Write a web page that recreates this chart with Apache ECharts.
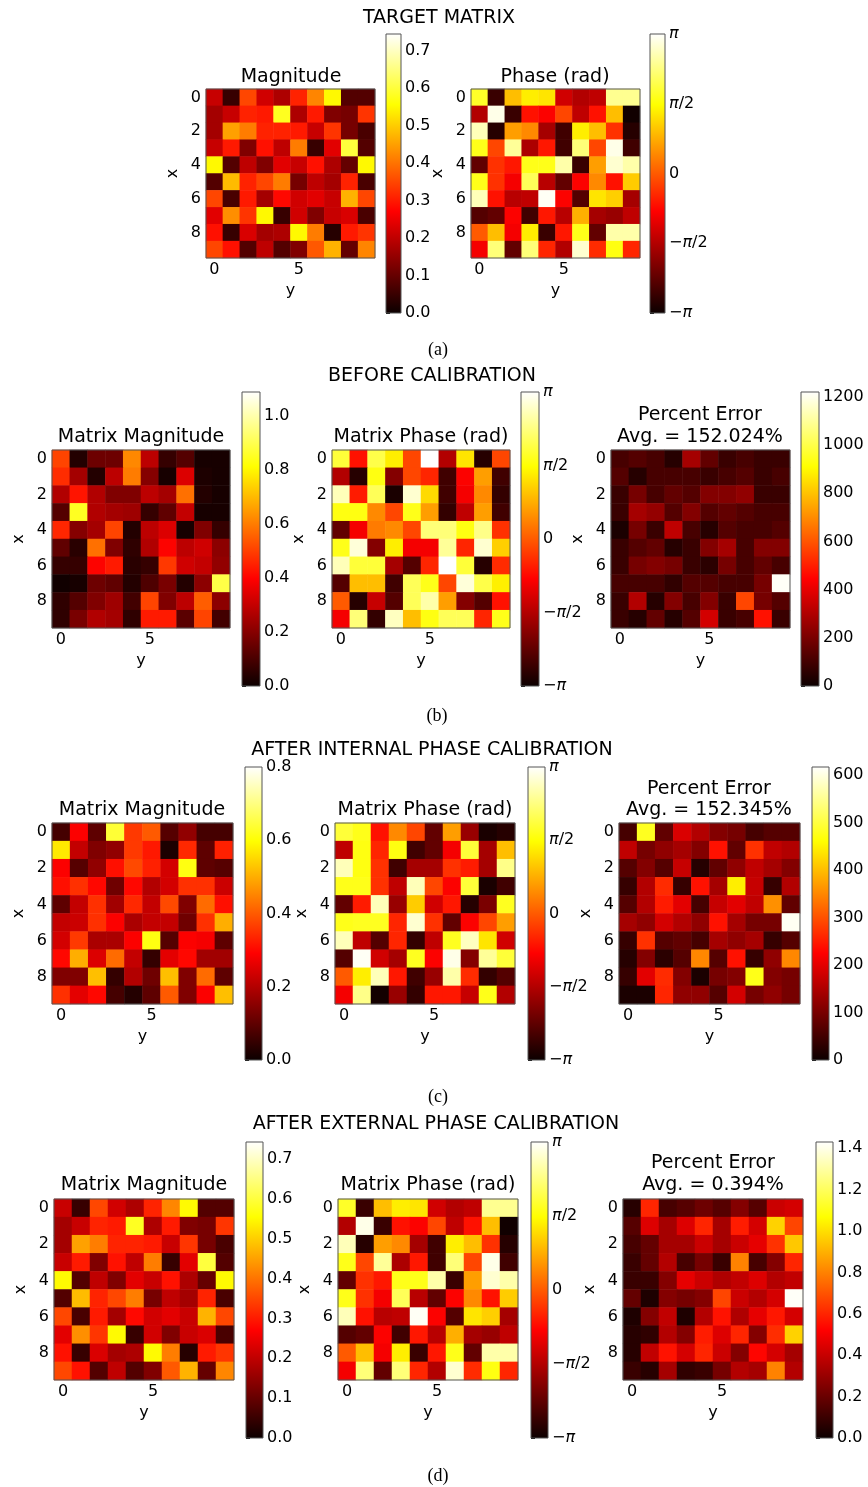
<!DOCTYPE html>
<html><head><meta charset="utf-8">
<script src="https://cdn.jsdelivr.net/npm/echarts@6/dist/echarts.min.js"></script>
<style>html,body{margin:0;padding:0;background:#fff}#c{width:868px;height:1487px}</style>
</head><body><div id="c"></div>
<script>
// ---------- DATA (rows = x 0..9 top to bottom, columns = y 0..9) ----------
const PI = Math.PI;
const cellIndex = ['0','1','2','3','4','5','6','7','8','9'];

const targetMag = [
[0.21,0.05,0.35,0.22,0.18,0.31,0.42,0.55,0.08,0.08],
[0.17,0.21,0.31,0.30,0.58,0.18,0.30,0.13,0.12,0.33],
[0.17,0.45,0.41,0.31,0.31,0.30,0.21,0.33,0.12,0.07],
[0.21,0.30,0.13,0.29,0.20,0.41,0.05,0.24,0.60,0.08],
[0.55,0.08,0.20,0.13,0.24,0.21,0.29,0.18,0.10,0.55],
[0.08,0.48,0.31,0.35,0.41,0.12,0.20,0.17,0.31,0.07],
[0.35,0.07,0.30,0.17,0.28,0.22,0.24,0.21,0.47,0.35],
[0.24,0.43,0.33,0.55,0.05,0.22,0.13,0.21,0.23,0.07],
[0.29,0.05,0.23,0.17,0.18,0.55,0.41,0.03,0.30,0.33],
[0.35,0.29,0.08,0.20,0.08,0.13,0.37,0.47,0.10,0.42]];

const targetPhase = [
[1.80,-2.70,0.94,1.38,1.30,-1.29,-1.57,-1.45,2.45,2.45],
[-1.57,3.00,-2.70,-0.69,-0.85,-0.19,-1.45,-0.69,0.94,-3.08],
[2.70,-2.89,0.63,0.44,-1.70,-2.64,1.38,0.94,-0.38,-2.89],
[1.70,-0.19,2.50,-1.63,-0.63,-2.64,2.30,-0.19,3.00,-2.64],
[-2.32,-0.38,-0.63,1.70,1.70,2.60,-2.70,0.63,2.85,2.60],
[1.70,-0.38,-0.94,2.10,-1.51,-2.32,-0.85,0.44,-0.69,1.07],
[2.70,-0.69,-1.51,-1.45,3.08,-0.85,-2.45,1.30,1.10,-1.70],
[-2.45,-2.32,-0.85,-2.64,-0.63,-1.51,0.80,-1.70,-1.82,-1.45],
[0.00,0.94,-0.94,1.38,-2.70,-0.63,1.70,-2.32,2.60,2.60],
[-0.94,2.30,-2.32,2.30,-0.50,-1.57,2.85,-0.44,1.65,-0.50]];

const beforeMag = [
[0.51,0.04,0.16,0.16,0.62,0.29,0.07,0.12,0.02,0.02],
[0.47,0.25,0.04,0.29,0.60,0.20,0.02,0.34,0.03,0.02],
[0.27,0.43,0.27,0.19,0.19,0.29,0.25,0.58,0.04,0.02],
[0.12,0.85,0.27,0.25,0.24,0.07,0.14,0.30,0.02,0.02],
[0.46,0.20,0.25,0.51,0.04,0.29,0.34,0.02,0.19,0.07],
[0.14,0.05,0.58,0.19,0.06,0.27,0.40,0.29,0.32,0.21],
[0.07,0.07,0.40,0.44,0.05,0.07,0.49,0.32,0.30,0.22],
[0.01,0.02,0.16,0.14,0.04,0.11,0.18,0.04,0.21,0.89],
[0.06,0.12,0.19,0.24,0.09,0.51,0.19,0.29,0.55,0.21],
[0.06,0.18,0.27,0.25,0.06,0.44,0.44,0.13,0.51,0.09]];

const beforePhase = [
[1.90,-0.69,2.00,1.38,-0.19,3.14,-1.57,1.30,-2.89,-0.19],
[-1.57,-2.89,1.65,-2.00,-0.19,-0.50,-2.64,-0.85,0.63,-2.64],
[2.70,-0.60,2.10,-3.00,2.85,1.20,-2.64,-0.94,0.44,-2.76],
[1.65,1.65,0.44,-0.19,1.70,0.63,-2.76,-1.45,0.63,-2.64],
[-2.32,-0.94,0.30,0.44,-0.19,2.30,2.30,1.65,2.40,-0.38],
[1.70,2.90,-2.00,1.38,-0.94,-0.94,2.50,-0.50,2.85,1.10],
[2.70,1.90,1.90,-1.70,-2.45,-0.50,3.14,1.90,-2.89,-0.44],
[-2.45,0.94,0.94,-2.64,2.10,1.70,-0.19,2.90,2.00,1.40],
[0.00,-2.89,-1.38,-2.45,2.10,2.60,0.63,-2.00,-2.45,-0.69],
[-0.94,2.30,-2.76,2.75,0.94,1.65,2.10,2.10,-0.50,1.70]];

const beforeErr = [
[110,134,110,49,281,159,85,110,85,85],
[134,49,110,110,110,85,110,134,85,110],
[85,195,110,159,134,220,220,244,85,85],
[85,281,250,134,220,134,159,134,110,110],
[30,195,85,329,110,49,134,110,110,134],
[85,134,159,49,85,220,281,110,220,220],
[85,195,220,195,85,60,195,110,159,110],
[110,110,110,70,134,134,110,110,195,1210],
[85,305,49,220,110,220,85,573,195,134],
[85,49,159,49,134,366,85,110,476,85]];

const internalMag = [
[0.07,0.29,0.10,0.64,0.36,0.40,0.09,0.16,0.07,0.07],
[0.57,0.22,0.14,0.16,0.36,0.32,0.02,0.34,0.10,0.33],
[0.29,0.09,0.16,0.31,0.38,0.33,0.24,0.61,0.10,0.09],
[0.31,0.35,0.30,0.12,0.30,0.20,0.24,0.35,0.35,0.23],
[0.10,0.22,0.35,0.18,0.34,0.22,0.38,0.14,0.42,0.31],
[0.22,0.23,0.35,0.29,0.19,0.22,0.22,0.12,0.35,0.50],
[0.24,0.36,0.19,0.19,0.29,0.61,0.09,0.29,0.28,0.10],
[0.30,0.50,0.25,0.42,0.22,0.05,0.26,0.30,0.18,0.18],
[0.14,0.14,0.52,0.05,0.20,0.12,0.52,0.14,0.42,0.10],
[0.35,0.26,0.30,0.07,0.03,0.10,0.40,0.14,0.29,0.52]];

const internalPhase = [
[1.90,1.70,-0.69,0.44,-0.19,-2.32,0.63,-1.82,-3.00,-2.89],
[-1.45,1.65,-0.50,1.65,-2.64,-2.32,-0.94,1.90,-1.70,0.94],
[2.70,1.65,-0.38,-2.64,-1.70,-1.70,-0.38,-0.60,-1.70,2.40],
[1.70,1.70,-0.38,-1.45,2.70,-0.19,-0.85,1.90,-3.00,-2.64],
[-2.32,-0.60,2.70,-1.82,1.07,-1.29,-0.63,-2.89,-2.10,1.75],
[1.70,1.75,1.75,-0.50,2.85,-0.38,-2.32,-0.85,-0.19,0.63],
[2.70,-1.45,-2.45,-0.50,-2.76,-1.45,1.75,2.75,1.30,-1.29],
[-2.45,3.08,-1.29,-1.70,1.75,-0.85,3.00,-2.00,2.50,1.90],
[0.00,1.38,2.70,-0.63,-2.64,-1.82,2.60,-0.44,-2.76,-2.45],
[-0.94,2.40,-3.05,-1.82,-2.76,-0.63,-0.63,-1.38,1.70,-1.57]];

const internalErr = [
[55,480,80,191,154,111,99,55,68,68],
[167,99,123,142,111,241,80,271,167,154],
[68,111,68,173,25,80,123,167,142,111],
[40,154,265,40,241,142,444,173,40,154],
[68,154,250,200,55,173,200,167,358,80],
[142,123,185,154,123,241,142,99,99,610],
[40,271,68,80,55,142,123,142,40,68],
[25,111,30,68,350,68,241,40,123,350],
[40,200,265,111,15,99,111,475,111,99],
[15,15,259,123,123,68,185,99,123,99]];

// after external calibration the matrix matches the target
const externalMag = targetMag;
const externalPhase = targetPhase;

const externalErr = [
[0.06,0.60,0.13,0.16,0.21,0.16,0.26,0.16,0.41,0.43],
[0.16,0.45,0.33,0.45,0.60,0.33,0.58,0.43,0.97,0.67],
[0.13,0.19,0.33,0.33,0.41,0.33,0.41,0.47,0.63,0.95],
[0.10,0.19,0.36,0.13,0.23,0.10,0.80,0.13,0.26,0.60],
[0.10,0.10,0.26,0.47,0.41,0.35,0.39,0.45,0.36,0.39],
[0.19,0.04,0.26,0.23,0.26,0.67,0.41,0.36,0.43,1.42],
[0.04,0.26,0.39,0.04,0.36,0.56,0.35,0.47,0.57,0.43],
[0.06,0.08,0.36,0.26,0.58,0.45,0.60,0.26,0.62,0.97],
[0.06,0.39,0.56,0.43,0.60,0.41,0.26,0.53,0.43,0.33],
[0.10,0.06,0.33,0.08,0.10,0.23,0.36,0.33,0.80,0.36]];

// colour ranges
const targetMagRange = [0, 0.745];
const phaseRange = [-PI, PI];
const beforeMagRange = [0, 1.09];
const beforeErrRange = [0, 1220];
const internalMagRange = [0, 0.80];
const internalErrRange = [0, 617];
const externalMagRange = [0, 0.743];
const externalErrRange = [0, 1.43];

// colorbar ticks
const magTicksA = [0,0.1,0.2,0.3,0.4,0.5,0.6,0.7];
const phaseTicks = [-PI,-PI/2,0,PI/2,PI];
const phaseTickLabels = ['\u2212{i|\u03c0}','\u2212{i|\u03c0}/2','0','{i|\u03c0}/2','{i|\u03c0}'];
const beforeMagTicks = [0,0.2,0.4,0.6,0.8,1.0];
const beforeErrTicks = [0,200,400,600,800,1000,1200];
const internalMagTicks = [0,0.2,0.4,0.6,0.8];
const internalErrTicks = [0,100,200,300,400,500,600];
const externalErrTicks = [0,0.2,0.4,0.6,0.8,1.0,1.2,1.4];

// ---------- STYLE ----------
const FONT = '"DejaVu Sans", Verdana, sans-serif';
const TICK_FS = 16, TITLE_FS = 19;
function hot(t){
  const r = Math.min(1, 0.0416 + (1-0.0416)*t/0.365079);
  const g = Math.max(0, Math.min(1, (t-0.365079)/(0.746032-0.365079)));
  const b = Math.max(0, Math.min(1, (t-0.746032)/(1-0.746032)));
  return 'rgb(' + Math.round(r*255) + ',' + Math.round(g*255) + ',' + Math.round(b*255) + ')';
}
const hotPalette = [];
for (let k = 0; k <= 64; k++) hotPalette.push(hot(k/64));
const hotGradient = {type:'linear', x:0, y:1, x2:0, y2:0, colorStops:[
  {offset:0, color:'rgb(11,0,0)'},{offset:0.365079, color:'rgb(255,0,0)'},
  {offset:0.746032, color:'rgb(255,255,0)'},{offset:1, color:'rgb(255,255,255)'}]};

const fmt1 = v => v.toFixed(1);
const fmt0 = v => String(Math.round(v));
const fmtPhase = v => { let i = 0; phaseTicks.forEach((t,k)=>{ if (Math.abs(t-v) < 1e-6) i = k; }); return phaseTickLabels[i]; };

const panels = [
  {data:targetMag, hm:[206,89,169,169], cb:[386,34,15,279], range:targetMagRange, ticks:magTicksA, fmt:fmt1},
  {data:targetPhase, hm:[471,89,169,169], cb:[650,34,15,279], range:phaseRange, ticks:phaseTicks, fmt:fmtPhase},
  {data:beforeMag, hm:[52,450,178,178], cb:[242,392,18,294], range:beforeMagRange, ticks:beforeMagTicks, fmt:fmt1},
  {data:beforePhase, hm:[332,450,178,178], cb:[521,392,18,294], range:phaseRange, ticks:phaseTicks, fmt:fmtPhase},
  {data:beforeErr, hm:[611,450,179,178], cb:[801,392,18,294], range:beforeErrRange, ticks:beforeErrTicks, fmt:fmt0},
  {data:internalMag, hm:[52,823,181,181], cb:[245,767,17,293], range:internalMagRange, ticks:internalMagTicks, fmt:fmt1},
  {data:internalPhase, hm:[335,823,180,181], cb:[528,767,17,293], range:phaseRange, ticks:phaseTicks, fmt:fmtPhase},
  {data:internalErr, hm:[619,823,181,181], cb:[812,767,17,293], range:internalErrRange, ticks:internalErrTicks, fmt:fmt0},
  {data:externalMag, hm:[54,1199,180,181], cb:[246,1142,17,296], range:externalMagRange, ticks:magTicksA, fmt:fmt1},
  {data:externalPhase, hm:[338,1199,180,181], cb:[531,1142,17,296], range:phaseRange, ticks:phaseTicks, fmt:fmtPhase},
  {data:externalErr, hm:[623,1199,180,181], cb:[816,1142,17,296], range:externalErrRange, ticks:externalErrTicks, fmt:fmt1}
];

const texts = [
  ['TARGET MATRIX', 439, 18, TITLE_FS, false],
  ['Magnitude', 291, 77, TITLE_FS, false],
  ['Phase (rad)', 555, 77, TITLE_FS, false],
  ['(a)', 438, 350, 18, true],
  ['BEFORE CALIBRATION', 432, 376, TITLE_FS, false],
  ['Matrix Magnitude', 141, 437, TITLE_FS, false],
  ['Matrix Phase (rad)', 421, 437, TITLE_FS, false],
  ['Percent Error', 700, 415, TITLE_FS, false],
  ['Avg. = 152.024%', 700, 437, TITLE_FS, false],
  ['(b)', 437, 716, 18, true],
  ['AFTER INTERNAL PHASE CALIBRATION', 432, 750, TITLE_FS, false],
  ['Matrix Magnitude', 142, 810, TITLE_FS, false],
  ['Matrix Phase (rad)', 425, 810, TITLE_FS, false],
  ['Percent Error', 709, 789, TITLE_FS, false],
  ['Avg. = 152.345%', 709, 810, TITLE_FS, false],
  ['(c)', 438, 1097, 18, true],
  ['AFTER EXTERNAL PHASE CALIBRATION', 436, 1124, TITLE_FS, false],
  ['Matrix Magnitude', 144, 1185, TITLE_FS, false],
  ['Matrix Phase (rad)', 428, 1185, TITLE_FS, false],
  ['Percent Error', 713, 1163, TITLE_FS, false],
  ['Avg. = 0.394%', 713, 1185, TITLE_FS, false],
  ['(d)', 438, 1476, 18, true]
];

const option = {animation:false, backgroundColor:'#fff', grid:[], xAxis:[], yAxis:[], series:[], visualMap:[], graphic:[]};
const tickStyle = {color:'#000', width:1};
const labelStyle = {color:'#000', fontSize:TICK_FS, fontFamily:FONT};

panels.forEach((p, i) => {
  const [hx, hy, hw, hh] = p.hm;
  const [cx, cy, cw, ch] = p.cb;
  const gH = 2*i, gC = 2*i + 1;
  option.grid.push({left:hx, top:hy, width:hw, height:hh});
  option.grid.push({left:cx, top:cy, width:cw, height:ch});
  option.xAxis.push({type:'category', gridIndex:gH, data:cellIndex, name:'y', nameLocation:'middle', nameGap:25,
    nameTextStyle:{color:'#000', fontSize:TICK_FS, fontFamily:FONT},
    axisLine:{show:false}, splitLine:{show:false},
    axisTick:{alignWithLabel:true, interval:(n)=> n % 5 === 0, length:4, lineStyle:tickStyle},
    axisLabel:Object.assign({interval:(n)=> n % 5 === 0, margin:4}, labelStyle)});
  option.yAxis.push({type:'category', gridIndex:gH, data:cellIndex, inverse:true, name:'x', nameLocation:'middle', nameGap:25, nameRotate:90,
    nameTextStyle:{color:'#000', fontSize:TICK_FS, fontFamily:FONT},
    axisLine:{show:false}, splitLine:{show:false},
    axisTick:{alignWithLabel:true, interval:1, length:4, lineStyle:tickStyle},
    axisLabel:Object.assign({interval:1, margin:5}, labelStyle)});
  option.xAxis.push({type:'value', gridIndex:gC, show:false, min:0, max:1});
  option.yAxis.push({type:'value', gridIndex:gC, position:'right', min:p.range[0], max:p.range[1],
    axisLine:{show:false}, splitLine:{show:false},
    axisTick:{customValues:p.ticks, length:4, lineStyle:tickStyle},
    axisLabel:Object.assign({customValues:p.ticks, formatter:p.fmt, margin:4,
      rich:{i:{fontStyle:'italic', fontSize:TICK_FS, fontFamily:FONT, color:'#000'}}}, labelStyle)});
  const cells = [];
  p.data.forEach((row, r) => row.forEach((v, c) => cells.push([c, r, v])));
  option.series.push({type:'heatmap', xAxisIndex:gH, yAxisIndex:gH, data:cells, itemStyle:{borderWidth:0}, emphasis:{disabled:true}});
  option.visualMap.push({type:'continuous', show:false, seriesIndex:i, dimension:2, min:p.range[0], max:p.range[1], inRange:{color:hotPalette}});
  option.graphic.push({type:'rect', z:50, shape:{x:cx, y:cy, width:cw, height:ch}, style:{fill:hotGradient, stroke:'#555', lineWidth:1}});
  option.graphic.push({type:'rect', z:50, shape:{x:hx, y:hy, width:hw, height:hh}, style:{fill:'transparent', stroke:'#555', lineWidth:1}});
});

texts.forEach(([t, x, y, fs, serif]) => {
  option.graphic.push({type:'text', z:60, x:x, y:y, style:{text:t, textAlign:'center', textVerticalAlign:'middle', fill:'#000',
    font: fs + 'px ' + (serif ? '"Liberation Serif", "Times New Roman", serif' : FONT)}});
});

const chart = echarts.init(document.getElementById('c'), null, {renderer:'canvas'});
chart.setOption(option);
</script>
</body></html>
